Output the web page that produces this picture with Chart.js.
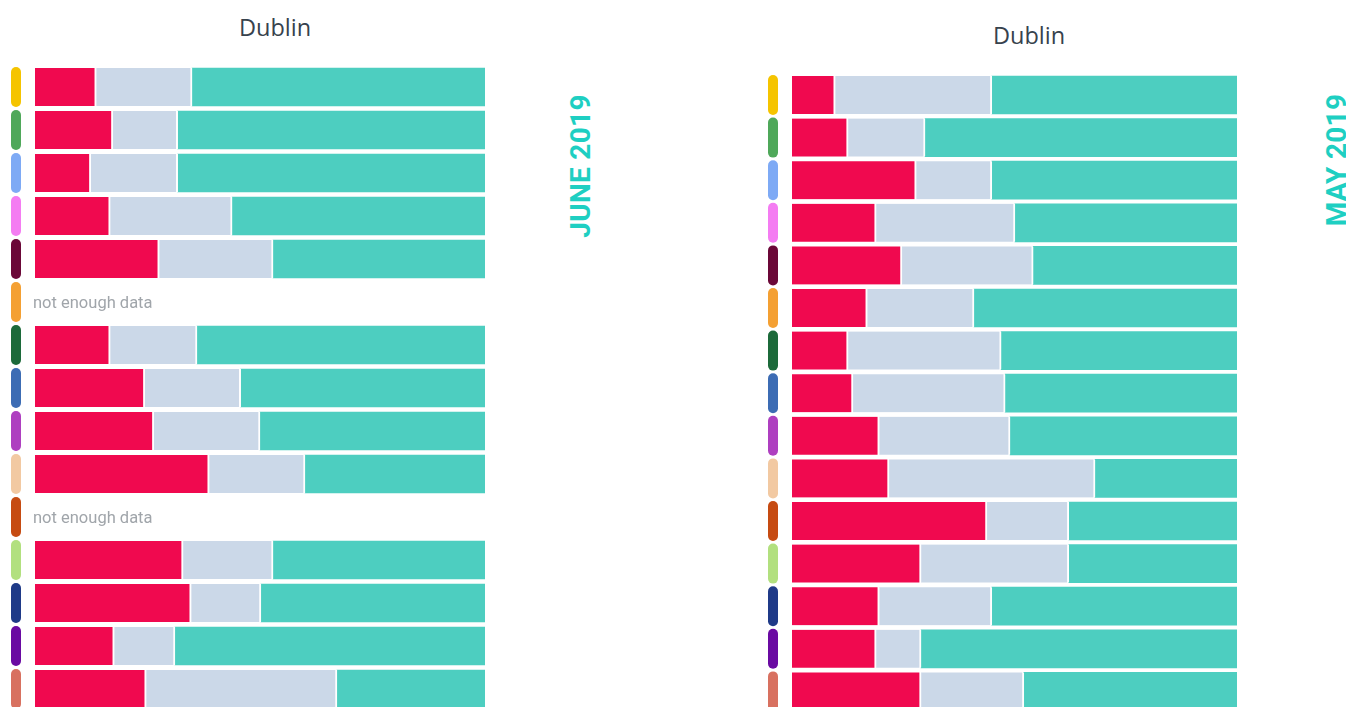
<!DOCTYPE html>
<html>
<head>
<meta charset="utf-8">
<script src="https://cdn.jsdelivr.net/npm/chart.js@4/dist/chart.umd.min.js"></script>
<style>
  html, body { margin: 0; padding: 0; background: #fff; width: 1346px; height: 707px; overflow: hidden; }
  canvas { position: absolute; }
  .title { position: absolute; font-family: "Open Sans", "Noto Sans", sans-serif; font-size: 23.5px; color: #37424d; transform: translate(-50%, -50%); white-space: nowrap; }
  .period { position: absolute; font-family: Roboto, "Noto Sans", sans-serif; font-weight: 700; font-size: 28px; color: #1ecfc2; white-space: nowrap; transform: translate(-50%, -50%) rotate(-90deg); letter-spacing: 0.3px; }
</style>
</head>
<body>
<div class="title" style="left:275px; top:27px;">Dublin</div>
<div class="title" style="left:1029px; top:35px;">Dublin</div>
<div class="period" style="left:580px; top:166px;">JUNE 2019</div>
<div class="period" style="left:1336px; top:160px;">MAY 2019</div>
<canvas id="juneChart" width="500" height="720" style="left:0px; top:0px;"></canvas>
<canvas id="mayChart" width="500" height="720" style="left:757px; top:0px;"></canvas>
<script>
// ---- data ----
const rowLabels = ['Row 1','Row 2','Row 3','Row 4','Row 5','Row 6','Row 7','Row 8','Row 9','Row 10','Row 11','Row 12','Row 13','Row 14','Row 15'];
const rowColors = ['#f5c400','#4fa85a','#7eaaf5','#f47cf2','#6b0838','#f4a033','#1c6a3a','#3c6cb4','#ae3fc0','#f2c9a2','#c64b12','#b2e07f','#1f3a88','#6a0aa2','#d87160'];

const juneNegative = [13.6, 17.3, 12.4, 16.7, 27.6, null, 16.7, 24.4, 26.4, 38.7, null, 32.9, 34.7, 17.6, 24.7];
const juneNeutral  = [21.3, 14.4, 19.3, 27.1, 25.3, null, 19.3, 21.3, 23.6, 21.3, null, 20.0, 15.5, 13.5, 42.4];
const junePositive = [65.1, 68.3, 68.3, 56.2, 47.1, null, 64.0, 54.3, 50.0, 40.0, null, 47.1, 49.8, 68.9, 32.9];

const mayNegative = [9.7, 12.6, 27.9, 18.9, 24.7, 16.9, 12.6, 13.7, 19.6, 21.8, 43.8, 29.0, 19.6, 18.9, 29.0];
const mayNeutral  = [35.2, 17.3, 17.0, 31.2, 29.5, 24.0, 34.4, 34.2, 29.4, 46.3, 18.4, 33.2, 25.3, 10.1, 23.1];
const mayPositive = [55.1, 70.1, 55.1, 49.9, 45.8, 59.1, 53.0, 52.1, 51.0, 31.9, 37.8, 37.8, 55.1, 71.0, 47.9];

const noDataText = 'not enough data';

// ---- styles ----
const RED = '#f0094f', GRAY = '#cbd8e8', TEAL = '#4dcec0';

const rowDecor = {
  id: 'rowDecor',
  afterDatasetsDraw(chart) {
    const ctx = chart.ctx;
    const ys = chart.scales.y;
    const area = chart.chartArea;
    ctx.save();
    rowLabels.forEach((lab, i) => {
      const y = ys.getPixelForValue(i);
      const w = 10, h = 40, x = area.left - 24;
      ctx.fillStyle = rowColors[i];
      ctx.beginPath();
      ctx.roundRect(x, y - h / 2, w, h, 5);
      ctx.fill();
      const v = chart.data.datasets[0].data[i];
      if (v === null || v === undefined) {
        ctx.fillStyle = '#a0a5aa';
        ctx.font = '16.5px Roboto, sans-serif';
        ctx.textBaseline = 'middle';
        ctx.textAlign = 'left';
        ctx.fillText(noDataText, area.left - 2, y + 2);
      }
    });
    ctx.restore();
  }
};

function makeChart(id, neg, neu, pos, pad) {
  const seg = { borderColor: '#ffffff', borderWidth: { right: 2 }, borderSkipped: false, barThickness: 38 };
  return new Chart(document.getElementById(id), {
    type: 'bar',
    data: {
      labels: rowLabels,
      datasets: [
        Object.assign({ label: 'negative', data: neg, backgroundColor: RED }, seg),
        Object.assign({ label: 'neutral', data: neu, backgroundColor: GRAY }, seg),
        { label: 'positive', data: pos, backgroundColor: TEAL, borderWidth: 0, barThickness: 38 }
      ]
    },
    options: {
      indexAxis: 'y',
      responsive: false,
      animation: false,
      devicePixelRatio: 1,
      layout: { padding: pad },
      plugins: { legend: { display: false }, tooltip: { enabled: false }, title: { display: false } },
      scales: {
        x: { stacked: true, min: 0, max: 100, display: false },
        y: { stacked: true, display: false }
      }
    },
    plugins: [rowDecor]
  });
}

makeChart('juneChart', juneNegative, juneNeutral, junePositive, { left: 35, right: 15, top: 65.5, bottom: 9.5 });
makeChart('mayChart', mayNegative, mayNeutral, mayPositive, { left: 35, right: 20, top: 73.7, bottom: 7.3 });
</script>
</body>
</html>
